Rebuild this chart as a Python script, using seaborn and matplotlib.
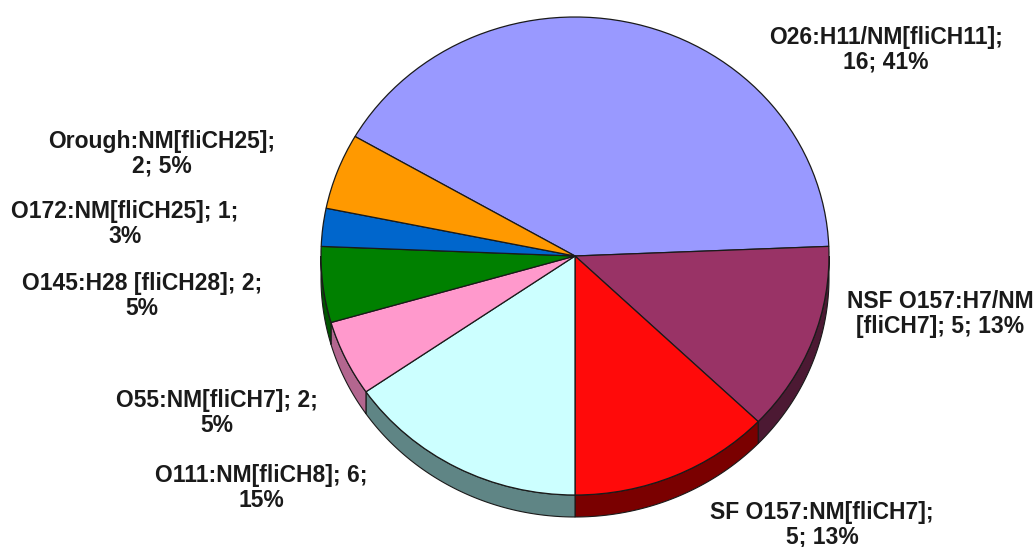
import numpy as np
import matplotlib
matplotlib.use("Agg")
import matplotlib.pyplot as plt
from matplotlib.patches import Polygon
import seaborn as sns

# Serotype distribution of the isolates (counts per group)
serotypes = [
    "O26:H11/NM[fliCH11]",
    "NSF O157:H7/NM\n[fliCH7]",
    "SF O157:NM[fliCH7]",
    "O111:NM[fliCH8]",
    "O55:NM[fliCH7]",
    "O145:H28 [fliCH28]",
    "O172:NM[fliCH25]",
    "Orough:NM[fliCH25]",
]
counts = [16, 5, 5, 6, 2, 2, 1, 2]

# how each label wraps onto two lines
label_formats = [
    "{name};\n{n}; {p}%",
    "{name}; {n}; {p}%",
    "{name};\n{n}; {p}%",
    "{name}; {n};\n{p}%",
    "{name}; {n};\n{p}%",
    "{name}; {n};\n{p}%",
    "{name}; {n};\n{p}%",
    "{name};\n{n}; {p}%",
]

top_colors = ["#9999FF", "#993366", "#FF0A0A", "#CCFFFF",
              "#FF99CC", "#008000", "#0066CC", "#FF9900"]
side_colors = ["#4d4d80", "#4c1933", "#7a0000", "#5f8585",
               "#b3668f", "#005500", "#003d7a", "#a06000"]

# label centres in figure pixels (from top-left)
label_xy = [(886, 50), (940, 314), (822, 525), (261, 488),
            (217, 413), (142, 296), (125, 224), (162, 154)]

W, H = 1034, 547
cx, cy, rx, ry = 575, 256, 254, 239   # ellipse of the top face, px
depth = 22 / ry                        # thickness of the disc, data units

sns.set_theme(style="white")
plt.rcParams["font.family"] = ["Liberation Sans", "DejaVu Sans"]

fig = plt.figure(figsize=(W / 100, H / 100), dpi=100)
ax = fig.add_axes([0, 0, 1, 1])

wedges, _ = ax.pie(
    counts,
    colors=top_colors,
    startangle=150,
    counterclock=False,
    radius=1.0,
    wedgeprops=dict(edgecolor="#1a1a1a", linewidth=0.9, zorder=2),
)

# side walls of the disc, visible on the front (lower) half
for w, sc in zip(wedges, side_colors):
    t1, t2 = min(w.theta1, w.theta2), max(w.theta1, w.theta2)
    for k in range(-2, 3):
        a = max(t1, 180 + 360 * k)
        b = min(t2, 360 + 360 * k)
        if b <= a:
            continue
        ang = np.radians(np.linspace(a, b, 80))
        top = np.column_stack([np.cos(ang), np.sin(ang)])
        bot = np.column_stack([np.cos(ang), np.sin(ang) - depth])[::-1]
        ax.add_patch(Polygon(np.vstack([top, bot]), closed=True,
                             facecolor=sc, edgecolor="#1a1a1a",
                             linewidth=0.8, zorder=1))

ax.set_aspect("auto")
ax.set_xlim(-cx / rx, (W - cx) / rx)
ax.set_ylim((cy - H) / ry, cy / ry)
ax.axis("off")

total = sum(counts)
for name, n, fmt, (px, py) in zip(serotypes, counts, label_formats, label_xy):
    txt = fmt.format(name=name, n=n, p=round(100 * n / total))
    fig.text(px / W, 1 - py / H, txt, ha="center", va="center",
             fontsize=16.5, fontweight="bold", color="#1a1a1a",
             linespacing=1.08)

fig.savefig("out.png", dpi=100, facecolor="white")
